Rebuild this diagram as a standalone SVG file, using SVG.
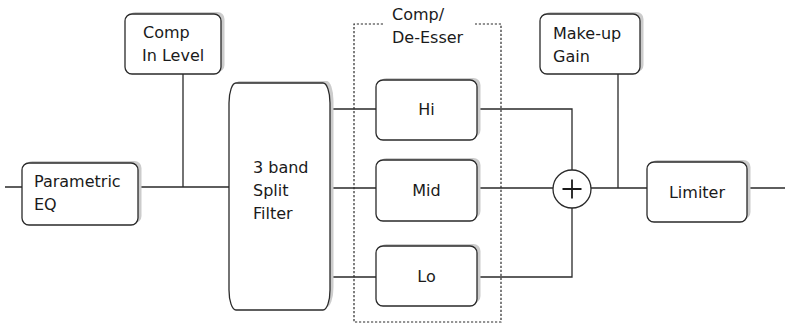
<svg xmlns="http://www.w3.org/2000/svg" width="786" height="324" viewBox="0 0 786 324">
<style>
.box{fill:#fff;stroke:#2a2a2a;stroke-width:1.3}
.sh{fill:#cccccc}
.t{font-family:"DejaVu Sans","Liberation Sans",Arial,sans-serif;font-size:16px;fill:#1a1a1a}
.w{fill:none;stroke:#2a2a2a;stroke-width:1.3}
</style>
<rect width="786" height="324" fill="#fff"/>
<g id="connectors">
<path class="w" d="M5 187H22M138 187H229M183 74V187M330 109H376M330 188H376M330 277H376M477 109H572V170M477 188H553M477 277H572V208M591 188H647M618 74V188M747 188H785"/>
</g>
<g id="dashed-group">
<path d="M383 24H354V322H501V24H475" fill="none" stroke="#2a2a2a" stroke-width="1.2" stroke-dasharray="2.2 1.8"/>
<text class="t" x="392" y="20">Comp/</text>
<text class="t" x="392" y="43">De-Esser</text>
</g>
<g id="parametric-eq">
<rect class="sh" x="25.5" y="161" width="116" height="62" rx="7"/>
<rect class="box" x="22" y="163" width="116" height="62" rx="7"/>
<text class="t" x="34" y="187">Parametric</text>
<text class="t" x="34" y="210">EQ</text>
</g>
<g id="comp-in-level">
<rect class="sh" x="128.5" y="12" width="96" height="60" rx="7"/>
<rect class="box" x="125" y="14" width="96" height="60" rx="7"/>
<text class="t" x="143" y="38">Comp</text>
<text class="t" x="142" y="61">In Level</text>
</g>
<g id="split-filter">
<rect class="sh" x="232.5" y="81" width="101" height="226" rx="7" ry="20"/>
<rect class="box" x="229" y="83" width="101" height="227" rx="7" ry="20"/>
<text class="t" x="253" y="173">3 band</text>
<text class="t" x="253" y="196">Split</text>
<text class="t" x="253" y="219">Filter</text>
</g>
<g id="hi">
<rect class="sh" x="379.5" y="78" width="101" height="59" rx="7"/>
<rect class="box" x="376" y="80" width="101" height="60" rx="7"/>
<text class="t" x="426.5" y="115" text-anchor="middle">Hi</text>
</g>
<g id="mid">
<rect class="sh" x="379.5" y="158" width="101" height="60" rx="7"/>
<rect class="box" x="376" y="160" width="101" height="61" rx="7"/>
<text class="t" x="426.5" y="196" text-anchor="middle">Mid</text>
</g>
<g id="lo">
<rect class="sh" x="379.5" y="244" width="101" height="59" rx="7"/>
<rect class="box" x="376" y="246" width="101" height="60" rx="7"/>
<text class="t" x="426.5" y="282" text-anchor="middle">Lo</text>
</g>
<g id="sum">
<circle class="box" cx="572" cy="189" r="19"/>
<path d="M562.5 189H581.5M572 179.5V198.5" stroke="#1a1a1a" stroke-width="1.8" fill="none"/>
</g>
<g id="make-up-gain">
<rect class="sh" x="543.5" y="12" width="100" height="60" rx="7"/>
<rect class="box" x="540" y="14" width="100" height="60" rx="7"/>
<text class="t" x="553" y="39">Make-up</text>
<text class="t" x="553" y="62">Gain</text>
</g>
<g id="limiter">
<rect class="sh" x="650.5" y="160" width="100" height="59" rx="7"/>
<rect class="box" x="647" y="162" width="100" height="60" rx="7"/>
<text class="t" x="697" y="198" text-anchor="middle">Limiter</text>
</g>
</svg>
